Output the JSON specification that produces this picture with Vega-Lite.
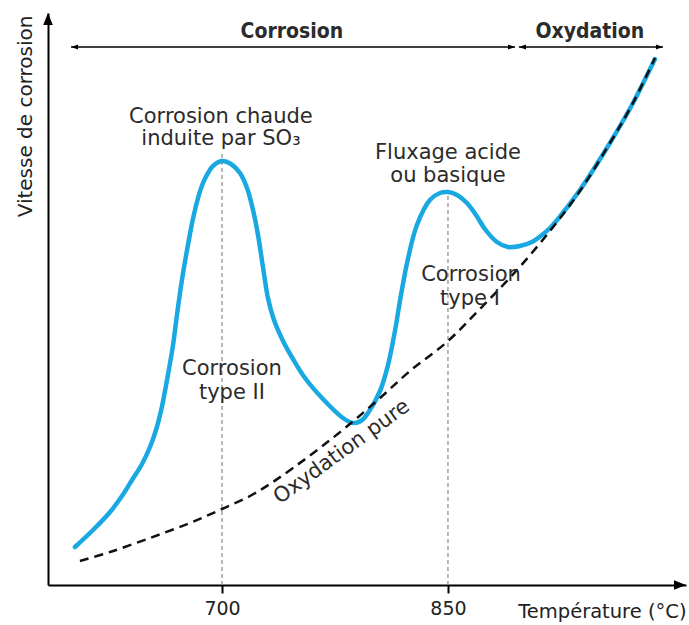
{
  "$schema": "https://vega.github.io/schema/vega-lite/v6.json",
  "autosize": {"type": "none"},
  "padding": {"left": 48, "top": 13, "right": 3, "bottom": 40},
  "width": 638,
  "height": 572,
  "background": "white",
  "config": {"view": {"stroke": null}},
  "datasets": {
    "blue": [
      {"t": 602.4, "v": 38}, {"t": 614.4, "v": 55}, {"t": 625.7, "v": 73}, {"t": 633.6, "v": 89},
      {"t": 640.3, "v": 105}, {"t": 646.9, "v": 121}, {"t": 652.2, "v": 138}, {"t": 656.2, "v": 155},
      {"t": 659.5, "v": 174}, {"t": 663.5, "v": 205}, {"t": 667.5, "v": 240}, {"t": 670.1, "v": 270},
      {"t": 673.4, "v": 305}, {"t": 677.4, "v": 340}, {"t": 680.7, "v": 366}, {"t": 684.1, "v": 387},
      {"t": 687.4, "v": 402}, {"t": 690.7, "v": 412}, {"t": 694.0, "v": 419},
      {"t": 700.0, "v": 424}, {"t": 706.0, "v": 421}, {"t": 711.9, "v": 412}, {"t": 716.6, "v": 397},
      {"t": 720.6, "v": 375}, {"t": 723.9, "v": 350}, {"t": 727.2, "v": 318}, {"t": 730.5, "v": 287},
      {"t": 734.5, "v": 265}, {"t": 740.5, "v": 244}, {"t": 747.1, "v": 226}, {"t": 755.1, "v": 207},
      {"t": 767.0, "v": 186}, {"t": 780.3, "v": 167}, {"t": 786.9, "v": 162}, {"t": 792.2, "v": 164},
      {"t": 796.9, "v": 172}, {"t": 804.9, "v": 194}, {"t": 810.2, "v": 220}, {"t": 814.8, "v": 254},
      {"t": 818.8, "v": 290}, {"t": 823.4, "v": 326}, {"t": 829.4, "v": 360}, {"t": 838.0, "v": 385},
      {"t": 844.7, "v": 392}, {"t": 850.0, "v": 393}, {"t": 856.0, "v": 390}, {"t": 862.6, "v": 382},
      {"t": 868.6, "v": 370}, {"t": 874.5, "v": 356}, {"t": 882.5, "v": 343}, {"t": 889.8, "v": 338},
      {"t": 897.8, "v": 339}, {"t": 905.7, "v": 343}, {"t": 912.4, "v": 350}, {"t": 917.7, "v": 357},
      {"t": 923.0, "v": 366}, {"t": 937.6, "v": 395}, {"t": 957.5, "v": 442}, {"t": 972.1, "v": 480},
      {"t": 987.4, "v": 526}
    ],
    "dashed": [
      {"t": 605.7, "v": 24}, {"t": 625.7, "v": 33}, {"t": 652.2, "v": 47}, {"t": 678.7, "v": 62},
      {"t": 700.0, "v": 76}, {"t": 718.6, "v": 89}, {"t": 731.8, "v": 101}, {"t": 747.1, "v": 117},
      {"t": 765.0, "v": 137}, {"t": 784.9, "v": 161}, {"t": 804.9, "v": 187}, {"t": 824.8, "v": 214},
      {"t": 849.3, "v": 243}, {"t": 871.2, "v": 276}, {"t": 895.8, "v": 315}, {"t": 917.7, "v": 354},
      {"t": 937.6, "v": 394}, {"t": 957.5, "v": 442}, {"t": 972.1, "v": 480}, {"t": 987.4, "v": 527}
    ],
    "grid": [
      {"t": 700, "v": 0, "v2": 433},
      {"t": 850, "v": 0, "v2": 390}
    ],
    "labels": [
      {"t": 699.3, "v": 468, "text": "Corrosion chaude"},
      {"t": 699.3, "v": 446, "text": "induite par SO₃"},
      {"t": 850.0, "v": 432, "text": "Fluxage acide"},
      {"t": 850.0, "v": 409, "text": "ou basique"},
      {"t": 865.3, "v": 310, "text": "Corrosion"},
      {"t": 864.6, "v": 286, "text": "type I"},
      {"t": 706.6, "v": 216, "text": "Corrosion"},
      {"t": 706.6, "v": 192, "text": "type II"}
    ],
    "curveLabel": [
      {"t": 779.6, "v": 133, "text": "Oxydation pure"}
    ],
    "zones": [
      {"t": 599.8, "t2": 894.5, "v": 538, "mid": 746.4, "lv": 553, "text": "Corrosion"},
      {"t": 897.1, "t2": 992.7, "v": 538, "mid": 944.2, "lv": 553, "text": "Oxydation"}
    ],
    "axisEnds": [
      {"t": 1008, "v": 0, "axis": "x"},
      {"t": 584.5, "v": 572, "axis": "y"}
    ]
  },
  "encoding": {
    "x": {
      "field": "t", "type": "quantitative",
      "scale": {"domain": [584.5, 1008], "nice": false, "zero": false},
      "axis": {
        "values": [700, 850], "format": "d", "grid": false,
        "domainColor": "black", "domainWidth": 2,
        "tickColor": "black", "tickWidth": 2, "tickSize": 8,
        "labelFont": "DejaVu Sans", "labelFontSize": 19, "labelColor": "#222", "labelPadding": 6,
        "title": "Température (°C)", "titleFont": "DejaVu Sans", "titleFontSize": 19.5,
        "titleFontWeight": "normal", "titleColor": "#222", "titleAnchor": "end",
        "titleBaseline": "middle", "titleY": 26
      }
    },
    "y": {
      "field": "v", "type": "quantitative",
      "scale": {"domain": [0, 572], "nice": false, "zero": false},
      "axis": {
        "values": [], "grid": false, "ticks": false, "labels": false,
        "domainColor": "black", "domainWidth": 2,
        "title": "Vitesse de corrosion", "titleFont": "DejaVu Sans", "titleFontSize": 20,
        "titleFontWeight": "normal", "titleColor": "#222",
        "titleAngle": 270, "titleAlign": "right", "titleBaseline": "middle",
        "titleX": -23, "titleY": 2
      }
    }
  },
  "layer": [
    {
      "data": {"name": "grid"},
      "mark": {"type": "rule", "color": "#8a8a8a", "strokeWidth": 1.2, "strokeDash": [4, 3]},
      "encoding": {"y2": {"field": "v2"}}
    },
    {
      "data": {"name": "blue"},
      "mark": {"type": "line", "color": "#19a8e2", "strokeWidth": 4.5, "interpolate": "catmull-rom", "strokeCap": "round", "strokeJoin": "round"},
      "encoding": {}
    },
    {
      "data": {"name": "dashed"},
      "mark": {"type": "line", "color": "#111", "strokeWidth": 2.5, "interpolate": "catmull-rom", "strokeDash": [9, 6]},
      "encoding": {}
    },
    {
      "data": {"name": "labels"},
      "mark": {"type": "text", "font": "DejaVu Sans", "fontSize": 21, "color": "#2b2b2b", "align": "center", "baseline": "middle"},
      "encoding": {"text": {"field": "text"}}
    },
    {
      "data": {"name": "curveLabel"},
      "mark": {"type": "text", "font": "DejaVu Sans", "fontSize": 21, "color": "#2b2b2b", "align": "center", "baseline": "middle", "angle": 324},
      "encoding": {"text": {"field": "text"}}
    },
    {
      "data": {"name": "zones"},
      "mark": {"type": "rule", "color": "black", "strokeWidth": 1.3},
      "encoding": {"x2": {"field": "t2"}}
    },
    {
      "data": {"name": "zones"},
      "mark": {"type": "point", "shape": "M0,0 L-2,-0.7 L-2,0.7 Z", "filled": true, "color": "black", "opacity": 1, "size": 49, "angle": 180},
      "encoding": {}
    },
    {
      "data": {"name": "zones"},
      "mark": {"type": "point", "shape": "M0,0 L-2,-0.7 L-2,0.7 Z", "filled": true, "color": "black", "opacity": 1, "size": 49},
      "encoding": {"x": {"field": "t2", "type": "quantitative"}}
    },
    {
      "data": {"name": "zones"},
      "mark": {"type": "text", "font": "DejaVu Sans Condensed, Liberation Sans Narrow, sans-serif", "fontSize": 21, "fontWeight": "bold", "color": "#2b2b2b", "align": "center", "baseline": "middle"},
      "encoding": {"x": {"field": "mid", "type": "quantitative"}, "y": {"field": "lv", "type": "quantitative"}, "text": {"field": "text"}}
    },
    {
      "data": {"name": "axisEnds"},
      "transform": [{"filter": "datum.axis == 'x'"}],
      "mark": {"type": "point", "shape": "M0,0 L-2,-0.8 L-2,0.8 Z", "filled": true, "color": "black", "opacity": 1, "size": 144},
      "encoding": {}
    },
    {
      "data": {"name": "axisEnds"},
      "transform": [{"filter": "datum.axis == 'y'"}],
      "mark": {"type": "point", "shape": "M0,0 L-2,-0.8 L-2,0.8 Z", "filled": true, "color": "black", "opacity": 1, "size": 144, "angle": 270},
      "encoding": {}
    }
  ]
}
